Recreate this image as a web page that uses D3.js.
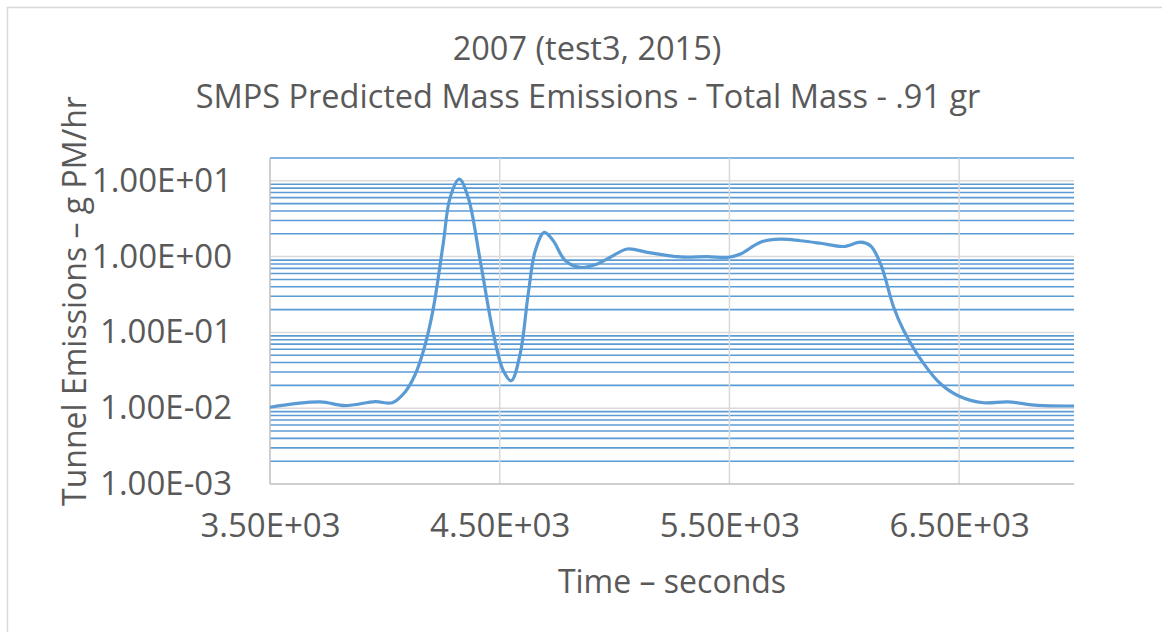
<!DOCTYPE html>
<html>
<head>
<meta charset="utf-8">
<script src="https://cdn.jsdelivr.net/npm/d3@7"></script>
<style>
  body { margin: 0; background: #fff; }
  text { font-family: "Open Sans", sans-serif; fill: #595959; }
</style>
</head>
<body>
<div id="chart"></div>
<script>
// chart data
const times = [3500, 3718, 3827, 3958, 4032, 4088, 4130, 4170, 4210, 4254, 4284, 4324, 4363,
  4415, 4472, 4515, 4550, 4589, 4624, 4655, 4694, 4733, 4785, 4851, 4925, 4981, 5056, 5143,
  5286, 5404, 5496, 5548, 5635, 5722, 5809, 5897, 5997, 6071, 6114, 6158, 6215, 6258, 6345,
  6419, 6498, 6607, 6711, 6842, 7000];
const emissions = [0.0103, 0.0121, 0.0108, 0.0122, 0.0118, 0.0164, 0.027, 0.06, 0.2, 1.48, 6.0, 10.5, 6.0,
  0.89, 0.098, 0.0316, 0.023, 0.052, 0.32, 1.2, 2.09, 1.62, 0.89, 0.72, 0.80, 0.98, 1.26, 1.14,
  0.99, 1.0, 0.98, 1.08, 1.55, 1.70, 1.62, 1.50, 1.36, 1.55, 1.39, 0.80, 0.215, 0.107, 0.039,
  0.021, 0.0145, 0.0118, 0.0121, 0.0109, 0.0107];

const xTicks = [3500, 4500, 5500, 6500];
const yTicks = [1e-3, 1e-2, 1e-1, 1e0, 1e1];
const titleLines = ["2007 (test3, 2015)", "SMPS Predicted Mass Emissions - Total Mass - .91 gr"];

const width = 1162, height = 632;
const margin = {top: 158, right: 88, bottom: 148, left: 270};

const svg = d3.select("#chart")
  .append("svg")
  .attr("width", width)
  .attr("height", height);

// chart frame
svg.append("rect")
  .attr("x", 7.5).attr("y", 7.5)
  .attr("width", width + 20).attr("height", height + 20)
  .attr("fill", "none")
  .attr("stroke", "#d9d9d9")
  .attr("stroke-width", 1.5);

const x = d3.scaleLinear()
  .domain([3500, 7000])
  .range([margin.left, width - margin.right]);

const y = d3.scaleLog()
  .domain([1e-3, 20])
  .range([height - margin.bottom, margin.top]);

// minor gridlines (2..9 of every decade), blue
let minor = [];
for (let k = -3; k <= 1; k++) {
  for (let m = 2; m <= 9; m++) {
    let v = m * Math.pow(10, k);
    if (v <= 20.0001) minor.push(v);
  }
}
svg.append("g")
  .selectAll("line")
  .data(minor)
  .enter()
  .append("line")
  .attr("x1", x(3500)).attr("x2", x(7000))
  .attr("y1", d => y(d)).attr("y2", d => y(d))
  .attr("stroke", "#5b9bd5")
  .attr("stroke-width", 1.6);

// major gridlines, gray
svg.append("g")
  .selectAll("line")
  .data(yTicks.slice(1))
  .enter()
  .append("line")
  .attr("x1", x(3500)).attr("x2", x(7000))
  .attr("y1", d => y(d)).attr("y2", d => y(d))
  .attr("stroke", "#d9d9d9")
  .attr("stroke-width", 1.5);

svg.append("g")
  .selectAll("line")
  .data(xTicks.slice(1))
  .enter()
  .append("line")
  .attr("x1", d => x(d)).attr("x2", d => x(d))
  .attr("y1", y(20)).attr("y2", y(1e-3))
  .attr("stroke", "#d9d9d9")
  .attr("stroke-width", 1.5);

// axes lines
svg.append("line")
  .attr("x1", x(3500)).attr("x2", x(3500))
  .attr("y1", y(20)).attr("y2", y(1e-3))
  .attr("stroke", "#bfbfbf").attr("stroke-width", 1.5);
svg.append("line")
  .attr("x1", x(3500)).attr("x2", x(7000))
  .attr("y1", y(1e-3)).attr("y2", y(1e-3))
  .attr("stroke", "#bfbfbf").attr("stroke-width", 1.5);

// tick labels
const sci = d => d3.format(".2e")(d).toUpperCase().replace(/E([+-])(\d)$/, "E$10$2");

const yAxis = svg.append("g")
  .attr("transform", `translate(${margin.left}, 0)`)
  .call(d3.axisLeft(y).tickValues(yTicks).tickSize(0).tickPadding(38).tickFormat(sci));
yAxis.select(".domain").remove();
yAxis.selectAll("text").attr("font-size", "33px").attr("font-family", null).attr("fill", null);

const xAxis = svg.append("g")
  .attr("transform", `translate(0, ${height - margin.bottom})`)
  .call(d3.axisBottom(x).tickValues(xTicks).tickSize(0).tickPadding(30).tickFormat(sci));
xAxis.select(".domain").remove();
xAxis.selectAll("text").attr("font-size", "33px").attr("font-family", null).attr("fill", null);

// data line
const line = d3.line()
  .x((d, i) => x(times[i]))
  .y(d => y(d))
  .curve(d3.curveCatmullRom.alpha(0.5));

svg.append("path")
  .datum(emissions)
  .attr("d", line)
  .attr("fill", "none")
  .attr("stroke", "#5b9bd5")
  .attr("stroke-width", 3.2)
  .attr("stroke-linejoin", "round");

// titles
svg.append("text")
  .attr("x", 587).attr("y", 60)
  .attr("text-anchor", "middle")
  .attr("font-size", "32.5px")
  .text(titleLines[0]);
svg.append("text")
  .attr("x", 588).attr("y", 108)
  .attr("text-anchor", "middle")
  .attr("font-size", "32.5px")
  .text(titleLines[1]);

svg.append("text")
  .attr("x", 672).attr("y", 593)
  .attr("text-anchor", "middle")
  .attr("font-size", "32px")
  .text("Time – seconds");

svg.append("text")
  .attr("transform", "translate(86, 301) rotate(-90)")
  .attr("text-anchor", "middle")
  .attr("font-size", "32px")
  .text("Tunnel Emissions – g PM/hr");
</script>
</body>
</html>
